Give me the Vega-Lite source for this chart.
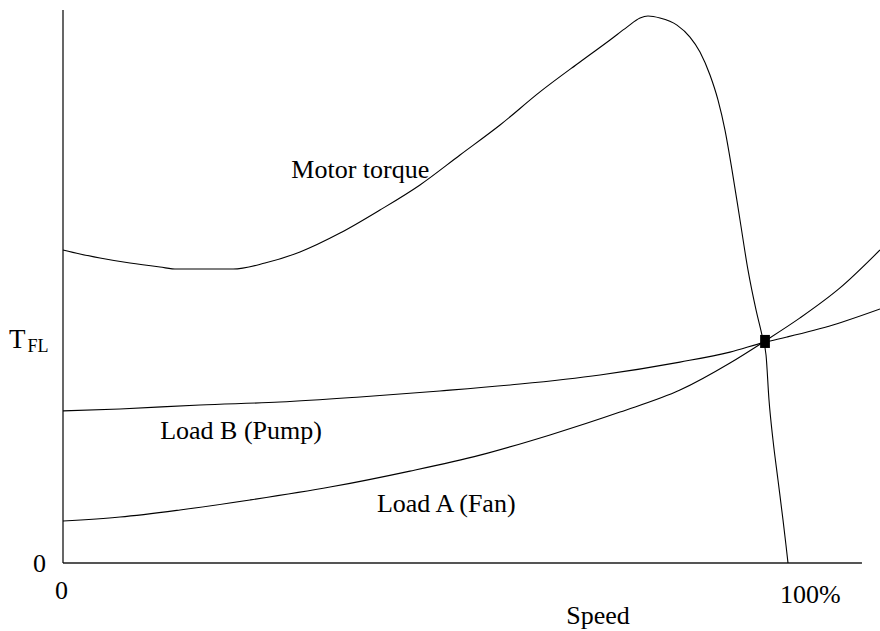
{
  "$schema": "https://vega.github.io/schema/vega-lite/v6.json",
  "width": 817,
  "height": 553,
  "autosize": "none",
  "padding": {"left": 63, "top": 10, "right": 0, "bottom": 68},
  "background": "white",
  "config": {"view": {"stroke": null}, "text": {"font": "Liberation Serif", "fontSize": 26, "color": "black"}},
  "datasets": {
    "curves": [
      {"curve": "Motor torque", "i": 0, "speed": 0, "torque": 141.0},
      {"curve": "Motor torque", "i": 1, "speed": 2.34, "torque": 139.2},
      {"curve": "Motor torque", "i": 2, "speed": 5.10, "torque": 137.4},
      {"curve": "Motor torque", "i": 3, "speed": 9.24, "torque": 135.1},
      {"curve": "Motor torque", "i": 4, "speed": 13.38, "torque": 133.3},
      {"curve": "Motor torque", "i": 5, "speed": 15.72, "torque": 132.4},
      {"curve": "Motor torque", "i": 6, "speed": 20.69, "torque": 132.4},
      {"curve": "Motor torque", "i": 7, "speed": 23.45, "torque": 132.4},
      {"curve": "Motor torque", "i": 8, "speed": 27.86, "torque": 135.1},
      {"curve": "Motor torque", "i": 9, "speed": 32.69, "torque": 140.1},
      {"curve": "Motor torque", "i": 10, "speed": 38.21, "torque": 148.6},
      {"curve": "Motor torque", "i": 11, "speed": 43.72, "torque": 159.0},
      {"curve": "Motor torque", "i": 12, "speed": 49.24, "torque": 170.3},
      {"curve": "Motor torque", "i": 13, "speed": 54.76, "torque": 183.8},
      {"curve": "Motor torque", "i": 14, "speed": 60.28, "torque": 197.3},
      {"curve": "Motor torque", "i": 15, "speed": 65.79, "torque": 212.2},
      {"curve": "Motor torque", "i": 16, "speed": 71.31, "torque": 225.7},
      {"curve": "Motor torque", "i": 17, "speed": 75.45, "torque": 235.6},
      {"curve": "Motor torque", "i": 18, "speed": 77.79, "torque": 241.4},
      {"curve": "Motor torque", "i": 19, "speed": 79.59, "torque": 245.5},
      {"curve": "Motor torque", "i": 20, "speed": 80.69, "torque": 246.4},
      {"curve": "Motor torque", "i": 21, "speed": 82.34, "torque": 245.5},
      {"curve": "Motor torque", "i": 22, "speed": 84.69, "torque": 242.3},
      {"curve": "Motor torque", "i": 23, "speed": 86.48, "torque": 236.9},
      {"curve": "Motor torque", "i": 24, "speed": 87.86, "torque": 230.2},
      {"curve": "Motor torque", "i": 25, "speed": 89.24, "torque": 219.8},
      {"curve": "Motor torque", "i": 26, "speed": 90.34, "torque": 208.6},
      {"curve": "Motor torque", "i": 27, "speed": 91.31, "torque": 195.0},
      {"curve": "Motor torque", "i": 28, "speed": 92.28, "torque": 177.0},
      {"curve": "Motor torque", "i": 29, "speed": 93.38, "torque": 154.5},
      {"curve": "Motor torque", "i": 30, "speed": 94.48, "torque": 132.0},
      {"curve": "Motor torque", "i": 31, "speed": 95.59, "torque": 114.0},
      {"curve": "Motor torque", "i": 32, "speed": 96.41, "torque": 102.7},
      {"curve": "Motor torque", "i": 33, "speed": 96.97, "torque": 93.7},
      {"curve": "Motor torque", "i": 34, "speed": 97.38, "torque": 73.4},
      {"curve": "Motor torque", "i": 35, "speed": 97.93, "torque": 55.4},
      {"curve": "Motor torque", "i": 36, "speed": 98.62, "torque": 37.4},
      {"curve": "Motor torque", "i": 37, "speed": 99.31, "torque": 19.4},
      {"curve": "Motor torque", "i": 38, "speed": 99.72, "torque": 8.1},
      {"curve": "Motor torque", "i": 39, "speed": 100.0, "torque": 0},
      {"curve": "Load B (Pump)", "i": 0, "speed": 0, "torque": 68.5},
      {"curve": "Load B (Pump)", "i": 1, "speed": 7.86, "torque": 69.4},
      {"curve": "Load B (Pump)", "i": 2, "speed": 18.90, "torque": 71.2},
      {"curve": "Load B (Pump)", "i": 3, "speed": 29.93, "torque": 72.5},
      {"curve": "Load B (Pump)", "i": 4, "speed": 40.97, "torque": 74.8},
      {"curve": "Load B (Pump)", "i": 5, "speed": 51.97, "torque": 77.5},
      {"curve": "Load B (Pump)", "i": 6, "speed": 63.03, "torque": 80.6},
      {"curve": "Load B (Pump)", "i": 7, "speed": 74.07, "torque": 84.7},
      {"curve": "Load B (Pump)", "i": 8, "speed": 85.10, "torque": 90.5},
      {"curve": "Load B (Pump)", "i": 9, "speed": 92.00, "torque": 95.0},
      {"curve": "Load B (Pump)", "i": 10, "speed": 96.83, "torque": 99.5},
      {"curve": "Load B (Pump)", "i": 11, "speed": 99.86, "torque": 101.8},
      {"curve": "Load B (Pump)", "i": 12, "speed": 106.2, "torque": 107.2},
      {"curve": "Load B (Pump)", "i": 13, "speed": 112.69, "torque": 114.4},
      {"curve": "Load A (Fan)", "i": 0, "speed": 0, "torque": 18.9},
      {"curve": "Load A (Fan)", "i": 1, "speed": 7.86, "torque": 20.7},
      {"curve": "Load A (Fan)", "i": 2, "speed": 16.14, "torque": 23.9},
      {"curve": "Load A (Fan)", "i": 3, "speed": 25.79, "torque": 28.4},
      {"curve": "Load A (Fan)", "i": 4, "speed": 36.83, "torque": 34.2},
      {"curve": "Load A (Fan)", "i": 5, "speed": 47.86, "torque": 41.4},
      {"curve": "Load A (Fan)", "i": 6, "speed": 57.52, "torque": 48.6},
      {"curve": "Load A (Fan)", "i": 7, "speed": 67.17, "torque": 57.7},
      {"curve": "Load A (Fan)", "i": 8, "speed": 76.83, "torque": 68.0},
      {"curve": "Load A (Fan)", "i": 9, "speed": 85.10, "torque": 77.9},
      {"curve": "Load A (Fan)", "i": 10, "speed": 92.00, "torque": 90.1},
      {"curve": "Load A (Fan)", "i": 11, "speed": 96.83, "torque": 100.0},
      {"curve": "Load A (Fan)", "i": 12, "speed": 101.66, "torque": 110.4},
      {"curve": "Load A (Fan)", "i": 13, "speed": 107.17, "torque": 123.9},
      {"curve": "Load A (Fan)", "i": 14, "speed": 112.69, "torque": 141.0}
    ]
  },
  "layer": [
    {
      "data": {"values": [{"x": 0, "x2": 110.2, "y": 0}]},
      "mark": {"type": "rule", "color": "#555555", "strokeWidth": 2},
      "encoding": {
        "x": {"field": "x", "type": "quantitative", "scale": {"domain": [0, 112.69], "nice": false, "zero": false}, "axis": null},
        "x2": {"field": "x2"},
        "y": {"field": "y", "type": "quantitative", "scale": {"domain": [0, 249.1], "nice": false, "zero": false}, "axis": null}
      }
    },
    {
      "data": {"values": [{"x": 0, "y": 0, "y2": 249.1}]},
      "mark": {"type": "rule", "color": "black", "strokeWidth": 1.2},
      "encoding": {
        "x": {"field": "x", "type": "quantitative", "axis": null},
        "y": {"field": "y", "type": "quantitative", "axis": null},
        "y2": {"field": "y2"}
      }
    },
    {
      "data": {"name": "curves"},
      "mark": {"type": "line", "color": "black", "strokeWidth": 1.1, "interpolate": "monotone"},
      "encoding": {
        "x": {"field": "speed", "type": "quantitative", "axis": null},
        "y": {"field": "torque", "type": "quantitative", "axis": null},
        "detail": {"field": "curve"},
        "order": {"field": "i", "type": "quantitative"}
      }
    },
    {
      "data": {"values": [{"speed": 96.83, "torque": 99.8}]},
      "mark": {"type": "point", "filled": true, "color": "black", "opacity": 1, "shape": "M-0.75,-1L0.75,-1L0.75,1L-0.75,1Z", "size": 170},
      "encoding": {
        "x": {"field": "speed", "type": "quantitative", "axis": null},
        "y": {"field": "torque", "type": "quantitative", "axis": null}
      }
    },
    {
      "data": {"values": [
        {"label": "Motor torque", "x": 31.5, "y": 173.4},
        {"label": "Load B (Pump)", "x": 13.4, "y": 55.9},
        {"label": "Load A (Fan)", "x": 43.3, "y": 23.0},
        {"label": "100%", "x": 98.9, "y": -18.0}
      ]},
      "mark": {"type": "text", "align": "left", "baseline": "alphabetic"},
      "encoding": {
        "x": {"field": "x", "type": "quantitative", "axis": null},
        "y": {"field": "y", "type": "quantitative", "axis": null},
        "text": {"field": "label"}
      }
    },
    {
      "data": {"values": [
        {"label": "0", "x": -0.2, "y": -16.2},
        {"label": "0", "x": -3.24, "y": -4.05},
        {"label": "Speed", "x": 73.8, "y": -27.5}
      ]},
      "mark": {"type": "text", "align": "center", "baseline": "alphabetic"},
      "encoding": {
        "x": {"field": "x", "type": "quantitative", "axis": null},
        "y": {"field": "y", "type": "quantitative", "axis": null},
        "text": {"field": "label"}
      }
    },
    {
      "data": {"values": [{"label": "T", "x": -7.45, "y": 96.8}]},
      "mark": {"type": "text", "align": "left", "baseline": "alphabetic", "fontSize": 27},
      "encoding": {
        "x": {"field": "x", "type": "quantitative", "axis": null},
        "y": {"field": "y", "type": "quantitative", "axis": null},
        "text": {"field": "label"}
      }
    },
    {
      "data": {"values": [{"label": "FL", "x": -4.9, "y": 95.0}]},
      "mark": {"type": "text", "align": "left", "baseline": "alphabetic", "fontSize": 18},
      "encoding": {
        "x": {"field": "x", "type": "quantitative", "axis": null},
        "y": {"field": "y", "type": "quantitative", "axis": null},
        "text": {"field": "label"}
      }
    }
  ]
}
